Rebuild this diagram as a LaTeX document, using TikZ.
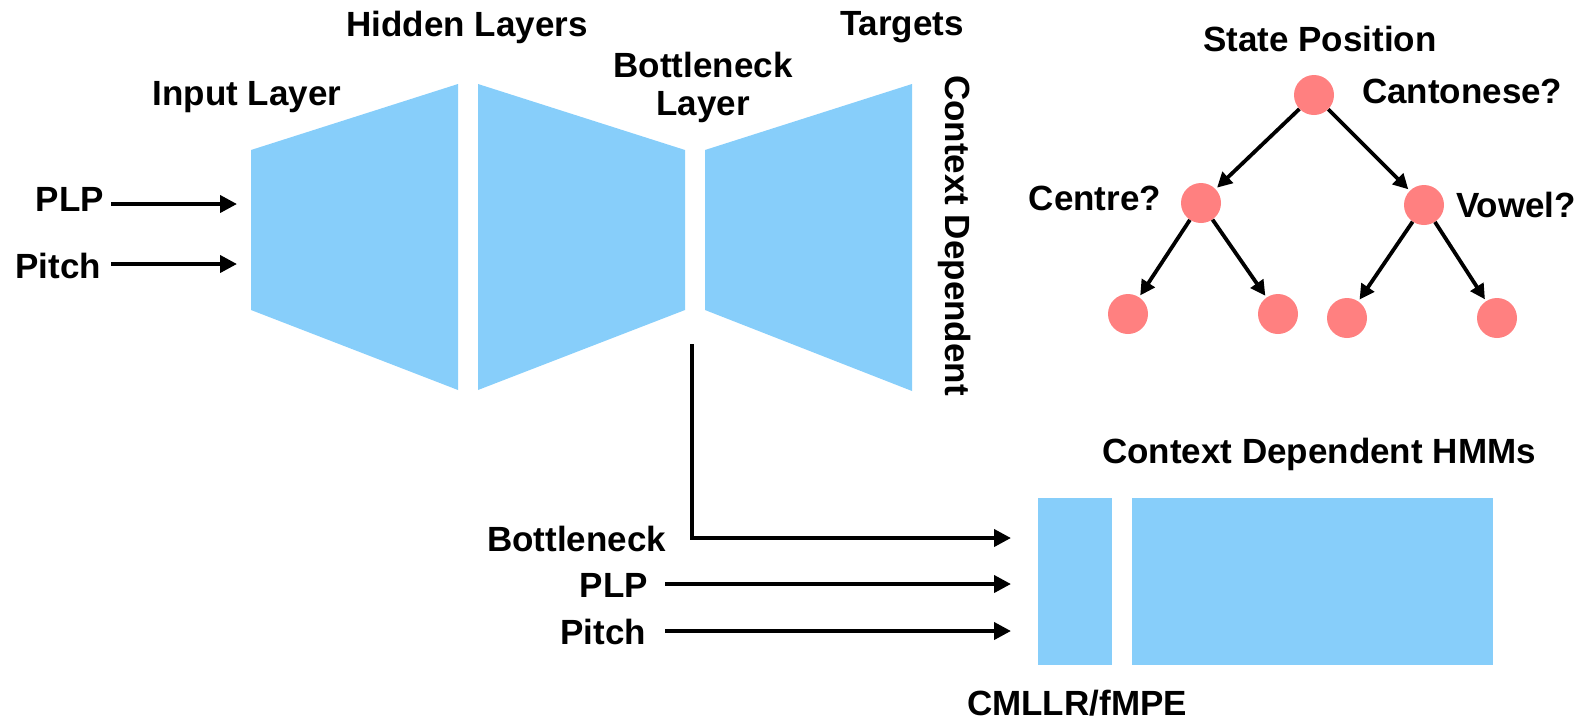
\documentclass[tikz,border=0pt]{standalone}
\usepackage{fontspec}
\setmainfont{Liberation Sans}
\usetikzlibrary{arrows.meta}
\definecolor{layerblue}{RGB}{135,206,250}
\definecolor{statered}{RGB}{255,128,128}

\begin{document}
\begin{tikzpicture}[x=1pt,y=-1pt,
  lbl/.style={font=\bfseries\fontsize{35}{38}\selectfont, inner sep=0pt, outer sep=0pt},
  layer/.style={fill=layerblue},
  hmmbox/.style={fill=layerblue, inner sep=0pt, outer sep=0pt, anchor=north west, minimum height=167pt},
  feed/.style={line width=4pt, -{Triangle[length=17pt,width=17pt]}},
  branch/.style={line width=3.8pt, -{Triangle[length=15pt,width=15pt]}, shorten >=2pt},
  state/.style={circle, fill=statered, minimum size=40pt, inner sep=0pt}]
\useasboundingbox (0,0) rectangle (1585,721);

% bottleneck network: three trapezoidal layer blocks
\fill[layer] (251,150) -- (458,84) -- (458,390) -- (251,310) -- cycle;
\fill[layer] (478,84) -- (685,150) -- (685,310) -- (478,390) -- cycle;
\fill[layer] (705,150) -- (912,84) -- (912,391) -- (705,310) -- cycle;

\node[lbl, anchor=base] (inlayer) at (247,105) {Input Layer};
\node[lbl, anchor=base] (hidden) at (467,36) {Hidden Layers};
\node[lbl, anchor=base] (bneck) at (703,77) {Bottleneck};
\node[lbl, anchor=base] (bnecklayer) at (703,115) {Layer};
\node[lbl, anchor=base] (targets) at (902,35) {Targets};
\node[lbl, rotate=-90, anchor=base west] (cdtargets) at (945,75) {Context Dependent};

% network inputs
\node[lbl, anchor=base east] (plpA) at (104,211) {PLP};
\node[lbl, anchor=base east] (pitchA) at (101,278) {Pitch};
\coordinate (plpin) at (237,204);
\coordinate (pitchin) at (237,264);
\draw[feed] ([xshift=7pt]plpA.east |- plpin) -- (plpin);
\draw[feed] ([xshift=10pt]pitchA.east |- pitchin) -- (pitchin);

% decision tree
\node[lbl, anchor=base] (statepos) at (1320,51) {State Position};
\node[state] (root) at (1314,95) {};
\node[state] (cq) at (1201,203) {};
\node[state] (vq) at (1424,205) {};
\node[state] (l1) at (1128,314) {};
\node[state] (l2) at (1278,314) {};
\node[state] (l3) at (1347,318) {};
\node[state] (l4) at (1497,318) {};
\node[lbl, anchor=base west] (qcant) at (1362,103) {Cantonese?};
\node[lbl, anchor=base east] (qcentre) at (1161,210) {Centre?};
\node[lbl, anchor=base west] (qvowel) at (1456,217) {Vowel?};
\draw[branch] (root) -- (cq);
\draw[branch] (root) -- (vq);
\draw[branch] (cq) -- (l1);
\draw[branch] (cq) -- (l2);
\draw[branch] (vq) -- (l3);
\draw[branch] (vq) -- (l4);

% tandem HMM system
\node[lbl, anchor=base] (hmmtitle) at (1319,463) {Context Dependent HMMs};
\node[hmmbox, minimum width=74pt] (fx) at (1038,498) {};
\node[hmmbox, minimum width=361pt] (hmm) at (1132,498) {};
\node[lbl, anchor=base] (fxlabel) at (1077,715) {CMLLR/fMPE};

\node[lbl, anchor=base east] (bnfeat) at (666,551) {Bottleneck};
\node[lbl, anchor=base east] (plpB) at (648,597) {PLP};
\node[lbl, anchor=base east] (pitchB) at (646,644) {Pitch};
\coordinate (bntap) at (692,344);
\coordinate (bnend) at (1011,538);
\coordinate (plpend) at (1011,584);
\coordinate (pitchend) at (1011,631);
\draw[feed] (bntap) |- (bnend);
\draw[feed] ([xshift=17pt]plpB.east |- plpend) -- (plpend);
\draw[feed] ([xshift=19pt]pitchB.east |- pitchend) -- (pitchend);
\end{tikzpicture}
\end{document}
